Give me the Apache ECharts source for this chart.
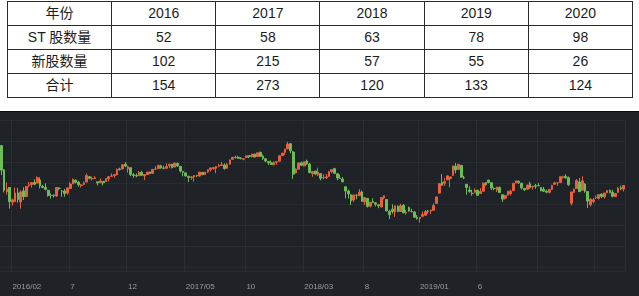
<!DOCTYPE html>
<html><head><meta charset="utf-8">
<script src="https://cdn.jsdelivr.net/npm/echarts@6/dist/echarts.min.js"></script>
<style>
html,body{margin:0;padding:0;background:#fff;width:639px;height:296px;overflow:hidden;}
#tbl{position:absolute;left:7px;top:1px;border-collapse:collapse;table-layout:fixed;width:626px;
 font-family:"Liberation Sans","Noto Sans CJK SC",sans-serif;font-size:14px;color:#1c1c1c;}
#tbl td{border:1px solid #2a2a2a;height:23px;padding:0;text-align:center;vertical-align:middle;line-height:23px;}
#chart{position:absolute;left:0;top:111px;width:639px;height:185px;background:#1f2226;border-top:1px solid #0c0c0c;}
</style></head>
<body>
<table id="tbl"></table>
<div id="chart"></div>
<script>
// ---- table data ----
const rowHeaders = ['年份', 'ST 股数量', '新股数量', '合计'];
const years = ['2016', '2017', '2018', '2019', '2020'];
const stCount = [52, 58, 63, 78, 98];
const newCount = [102, 215, 57, 55, 26];
const totalCount = [154, 273, 120, 133, 124];

// ---- weekly candles [open, close, low, high] ----
const dates16 = ['2016-01-04','2016-01-11','2016-01-18','2016-01-25','2016-02-01','2016-02-15','2016-02-22','2016-02-29','2016-03-07','2016-03-14','2016-03-21','2016-03-28','2016-04-05','2016-04-11','2016-04-18','2016-04-25','2016-05-03','2016-05-09','2016-05-16','2016-05-23','2016-05-30','2016-06-06','2016-06-13','2016-06-20','2016-06-27','2016-07-04','2016-07-11','2016-07-18','2016-07-25','2016-08-01','2016-08-08','2016-08-15','2016-08-22','2016-08-29','2016-09-05','2016-09-12','2016-09-19','2016-09-26','2016-10-10','2016-10-17','2016-10-24','2016-10-31','2016-11-07','2016-11-14','2016-11-21','2016-11-28','2016-12-05','2016-12-12','2016-12-19','2016-12-26'];
const k16 = [[3536,3186,3116,3539],[3192,2901,2868,3193],[2878,2916,2839,3011],[2939,2738,2638,2945],[2730,2763,2682,2781],[2739,2860,2729,2940],[2862,2767,2723,2933],[2733,2874,2638,2899],[2891,2810,2760,2941],[2812,2955,2798,2958],[2968,2979,2941,3018],[2980,3009,2936,3010],[3009,2985,2970,3055],[3003,3078,2995,3098],[3046,2960,2926,3083],[2955,2938,2929,2978],[2941,2913,2897,3000],[2899,2827,2807,2905],[2826,2825,2780,2852],[2829,2821,2797,2838],[2817,2938,2807,2939],[2928,2927,2899,2941],[2887,2885,2807,2904],[2888,2854,2807,2918],[2859,2933,2838,2935],[2924,2989,2924,3014],[2989,3054,2988,3069],[3044,3012,2997,3051],[3015,2979,2951,3032],[2967,2976,2939,2987],[2983,3004,2976,3025],[3016,3108,3015,3140],[3093,3070,3055,3101],[3064,3067,3038,3095],[3065,3078,3060,3100],[3020,3003,2969,3028],[3005,3033,3003,3069],[3025,3005,2968,3025],[3025,3064,3019,3072],[3062,3091,3026,3103],[3098,3104,3094,3140],[3107,3125,3077,3130],[3119,3196,3114,3210],[3203,3193,3182,3220],[3202,3262,3201,3270],[3270,3244,3229,3301],[3204,3233,3152,3249],[3221,3123,3100,3223],[3122,3110,3077,3143],[3108,3104,3085,3139]];
const dates17 = ['2017-01-03','2017-01-09','2017-01-16','2017-01-23','2017-02-03','2017-02-06','2017-02-13','2017-02-20','2017-02-27','2017-03-06','2017-03-13','2017-03-20','2017-03-27','2017-04-05','2017-04-10','2017-04-17','2017-04-24','2017-05-02','2017-05-08','2017-05-15','2017-05-22','2017-05-31','2017-06-05','2017-06-12','2017-06-19','2017-06-26','2017-07-03','2017-07-10','2017-07-17','2017-07-24','2017-07-31','2017-08-07','2017-08-14','2017-08-21','2017-08-28','2017-09-04','2017-09-11','2017-09-18','2017-09-25','2017-10-09','2017-10-16','2017-10-23','2017-10-30','2017-11-06','2017-11-13','2017-11-20','2017-11-27','2017-12-04','2017-12-11','2017-12-18','2017-12-25'];
const k17 = [[3105,3154,3103,3176],[3154,3113,3105,3176],[3104,3123,3044,3127],[3123,3159,3121,3160],[3160,3140,3128,3163],[3140,3197,3134,3197],[3200,3202,3196,3242],[3209,3253,3207,3264],[3250,3218,3206,3263],[3214,3213,3198,3250],[3212,3237,3210,3284],[3248,3269,3215,3280],[3270,3223,3210,3275],[3230,3287,3227,3290],[3282,3246,3232,3295],[3241,3173,3152,3241],[3169,3155,3098,3169],[3147,3103,3097,3154],[3100,3083,3016,3102],[3080,3091,3049,3100],[3090,3110,3022,3117],[3110,3105,3086,3119],[3102,3158,3091,3163],[3153,3123,3113,3161],[3123,3158,3118,3160],[3160,3192,3148,3193],[3196,3218,3165,3219],[3208,3222,3193,3223],[3212,3237,3142,3240],[3242,3253,3225,3276],[3252,3262,3247,3305],[3260,3208,3193,3282],[3213,3268,3207,3287],[3270,3332,3268,3336],[3340,3367,3337,3376],[3366,3365,3352,3392],[3369,3353,3345,3391],[3358,3352,3338,3372],[3342,3349,3326,3360],[3366,3390,3365,3391],[3393,3378,3357,3396],[3380,3416,3366,3417],[3414,3372,3367,3420],[3380,3433,3370,3435],[3440,3382,3375,3450],[3384,3353,3331,3410],[3348,3317,3301,3354],[3310,3290,3259,3310],[3290,3266,3262,3324],[3261,3297,3255,3310],[3299,3307,3262,3313]];
const dates18 = ['2018-01-02','2018-01-08','2018-01-15','2018-01-22','2018-01-29','2018-02-05','2018-02-12','2018-02-22','2018-02-26','2018-03-05','2018-03-12','2018-03-19','2018-03-26','2018-04-02','2018-04-09','2018-04-16','2018-04-23','2018-05-02','2018-05-07','2018-05-14','2018-05-21','2018-05-28','2018-06-04','2018-06-11','2018-06-19','2018-06-25','2018-07-02','2018-07-09','2018-07-16','2018-07-23','2018-07-30','2018-08-06','2018-08-13','2018-08-20','2018-08-27','2018-09-03','2018-09-10','2018-09-17','2018-09-25','2018-10-08','2018-10-15','2018-10-22','2018-10-29','2018-11-05','2018-11-12','2018-11-19','2018-11-26','2018-12-03','2018-12-10','2018-12-17','2018-12-24'];
const k18 = [[3314,3391,3314,3395],[3392,3429,3391,3431],[3436,3487,3402,3488],[3490,3558,3482,3587],[3563,3462,3426,3564],[3444,3129,3062,3460],[3147,3199,3140,3212],[3200,3289,3199,3290],[3290,3254,3244,3310],[3246,3307,3238,3308],[3316,3270,3267,3335],[3270,3153,3140,3290],[3133,3168,3091,3175],[3173,3131,3115,3175],[3120,3159,3101,3220],[3136,3071,3041,3137],[3078,3082,3055,3130],[3075,3091,3060,3131],[3096,3163,3095,3175],[3167,3193,3141,3195],[3207,3141,3130,3219],[3135,3075,3041,3141],[3075,3067,3062,3125],[3059,3021,3011,3089],[2950,2889,2782,2950],[2889,2847,2782,2910],[2834,2747,2691,2843],[2760,2831,2732,2839],[2830,2829,2771,2840],[2822,2873,2820,2915],[2875,2740,2740,2895],[2736,2795,2691,2798],[2784,2669,2653,2787],[2674,2730,2653,2736],[2739,2725,2723,2785],[2720,2702,2669,2731],[2694,2681,2644,2701],[2663,2797,2653,2800],[2790,2821,2770,2827],[2768,2606,2599,2768],[2600,2550,2490,2620],[2630,2598,2568,2699],[2591,2676,2520,2682],[2672,2598,2587,2683],[2597,2679,2597,2708],[2685,2579,2572,2703],[2577,2588,2552,2619],[2654,2605,2595,2667],[2596,2594,2586,2636],[2590,2516,2505,2602],[2511,2494,2482,2547]];
const dates19 = ['2019-01-02','2019-01-07','2019-01-14','2019-01-21','2019-01-28','2019-02-11','2019-02-18','2019-02-25','2019-03-04','2019-03-11','2019-03-18','2019-03-25','2019-04-01','2019-04-08','2019-04-15','2019-04-22','2019-04-29','2019-05-06','2019-05-13','2019-05-20','2019-05-27','2019-06-03','2019-06-10','2019-06-17','2019-06-24','2019-07-01','2019-07-08','2019-07-15','2019-07-22','2019-07-29','2019-08-05','2019-08-12','2019-08-19','2019-08-26','2019-09-02','2019-09-09','2019-09-16','2019-09-23','2019-09-30','2019-10-08','2019-10-14','2019-10-21','2019-10-28','2019-11-04','2019-11-11','2019-11-18','2019-11-25','2019-12-02','2019-12-09','2019-12-16','2019-12-23','2019-12-30'];
const k19 = [[2497,2514,2440,2515],[2528,2553,2515,2597],[2545,2596,2536,2618],[2605,2601,2566,2618],[2606,2618,2560,2620],[2613,2682,2608,2713],[2712,2804,2711,2809],[2859,2994,2851,3000],[3015,2969,2966,3129],[2998,3022,2961,3075],[3047,3104,3046,3112],[3066,3090,2940,3090],[3111,3247,3111,3250],[3243,3189,3139,3288],[3197,3270,3186,3270],[3254,3086,3083,3257],[3078,3078,3058,3106],[2985,2939,2838,2985],[2903,2882,2862,2956],[2856,2852,2822,2907],[2868,2899,2863,2927],[2901,2827,2822,2901],[2854,2882,2852,2930],[2886,3001,2880,3010],[3008,2979,2964,3016],[3044,3011,2998,3048],[3008,2931,2901,3010],[2924,2924,2900,2942],[2904,2945,2876,2948],[2940,2867,2866,2952],[2836,2774,2733,2836],[2787,2824,2766,2834],[2830,2884,2826,2894],[2850,2886,2826,2906],[2893,2999,2889,3000],[3005,3031,2998,3038],[3027,3006,2989,3042],[3000,2933,2911,3006],[2924,2905,2891,2934],[2914,2973,2910,2979],[2991,2938,2921,3022],[2945,2955,2909,2964],[2965,2958,2920,2989],[2966,2964,2959,3000],[2940,2891,2886,2940],[2914,2885,2880,2948],[2885,2872,2857,2907],[2871,2912,2854,2913],[2913,2968,2905,2979],[2985,3004,2977,3022],[3005,3005,2963,3016],[3011,3092,3000,3098]];
const dates20 = ['2020-01-06','2020-01-13','2020-01-20','2020-02-03','2020-02-10','2020-02-17','2020-02-24','2020-03-02','2020-03-09','2020-03-16','2020-03-23','2020-03-30','2020-04-07','2020-04-13','2020-04-20','2020-04-27','2020-05-06','2020-05-11','2020-05-18','2020-05-25','2020-06-01','2020-06-08','2020-06-15'];
const k20 = [[3085,3092,3064,3107],[3100,3075,3066,3127],[3081,2977,2964,3094],[2716,2876,2685,2876],[2869,2917,2860,2920],[2924,3039,2920,3059],[3017,2880,2876,3074],[2899,3034,2899,3100],[2987,2887,2864,3002],[2882,2745,2646,2886],[2692,2772,2670,2789],[2740,2764,2716,2790],[2793,2797,2776,2826],[2783,2838,2770,2840],[2845,2809,2788,2853],[2805,2860,2782,2862],[2865,2895,2856,2897],[2900,2868,2856,2909],[2870,2814,2798,2906],[2812,2852,2800,2861],[2869,2930,2867,2947],[2933,2919,2900,2965],[2917,2967,2882,2973]];

// ---- build table ----
(function(){
  const rows = [[rowHeaders[0]].concat(years),[rowHeaders[1]].concat(stCount),[rowHeaders[2]].concat(newCount),[rowHeaders[3]].concat(totalCount)];
  const t = document.getElementById('tbl');
  rows.forEach(r=>{const tr=document.createElement('tr');r.forEach(c=>{const td=document.createElement('td');td.textContent=String(c);tr.appendChild(td);});t.appendChild(tr);});
})();

// ---- chart ----
const dates = dates16.concat(dates17, dates18, dates19, dates20);
const candles = k16.concat(k17, k18, k19, k20);

const tickIdx = new Set();
const labelText = {};
(function(){
  let prev = null, lastYear = null;
  dates.forEach((d,i)=>{
    const y = +d.slice(0,4), m = +d.slice(5,7), key = y*12+m;
    if (key !== prev) {
      prev = key;
      const off = key - (2016*12+2);
      if (off >= 0 && off % 5 === 0) {
        tickIdx.add(i);
        if (d <= '2019-06-30') {
          labelText[i] = (y !== lastYear) ? (y + '/' + String(m).padStart(2,'0')) : String(m);
          lastYear = y;
        }
      }
    }
  });
})();

const chart = echarts.init(document.getElementById('chart'));
chart.setOption({
  backgroundColor: '#1f2226',
  animation: false,
  grid: {left: 0, right: 14, top: 8, bottom: 26, outerBoundsMode: 'none'},
  xAxis: {
    type: 'category', data: dates, boundaryGap: true,
    axisLine: {show: false}, axisTick: {show: false},
    axisLabel: {
      interval: (i) => labelText[i] !== undefined,
      formatter: (v, i) => labelText[i] !== undefined ? labelText[i] : '',
      color: '#9a9da1', fontSize: 8, align: 'left', margin: 12,
      fontFamily: 'Liberation Sans'
    },
    splitLine: {show: true, interval: (i) => tickIdx.has(i), lineStyle: {color: 'rgba(255,255,255,0.05)', width: 1}}
  },
  yAxis: {
    type: 'value', min: 1750, max: 3900, splitNumber: 6,
    axisLine: {show: false}, axisTick: {show: false}, axisLabel: {show: false},
    splitLine: {show: true, lineStyle: {color: 'rgba(255,255,255,0.045)', width: 1}}
  },
  series: [{
    type: 'candlestick',
    data: candles,
    barWidth: '80%',
    itemStyle: {color: '#e8603e', color0: '#6cbd58', borderColor: '#e8603e', borderColor0: '#6cbd58', borderWidth: 1}
  }]
});
</script>
</body></html>
